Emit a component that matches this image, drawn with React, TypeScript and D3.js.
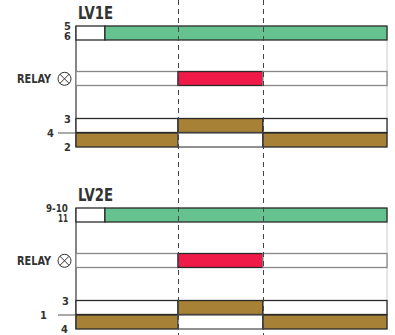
import React from "react";
import * as d3 from "d3";

// time axis (arbitrary units 0..100)
const timeDomain = [0, 100];
const switchTimes = [32.8, 60.1];

type Seg = [number, number, number];

const panelTitles = ["LV1E", "LV2E"];
const supplyLabels = [["5", "6"], ["9-10", "11"]];
const contactLabels = [["3", "4", "2"], ["3", "1", "4"]];
const relayLabel = "RELAY";

const supplyStates: Seg[] = [[0, 9.3, 0], [9.3, 100, 1]];
const relayStates: Seg[] = [[0, 32.8, 0], [32.8, 60.1, 1], [60.1, 100, 0]];
const nOpenStates: Seg[] = [[0, 32.8, 0], [32.8, 60.1, 1], [60.1, 100, 0]];
const nClosedStates: Seg[] = [[0, 32.8, 1], [32.8, 60.1, 0], [60.1, 100, 1]];

const GREEN = "#66c28e";
const RED = "#ef1a47";
const BROWN = "#a68136";
const FONT = "'Liberation Sans Narrow', 'DejaVu Sans Condensed', 'Arial Narrow', sans-serif";

export default function App() {
  const W = 395, H = 335;
  const x = d3.scaleLinear().domain(timeDomain).range([76, 387]);
  const panelOffsets = [0, 182];

  const row = (segs: Seg[], y0: number, h: number, color: string, offStroke: string, key: string) => (
    <g key={key}>
      {segs.map((s, i) => (
        <rect key={i} x={x(s[0])} y={y0} width={x(s[1]) - x(s[0])} height={h}
          fill={s[2] ? color : "#fff"} stroke={s[2] ? "#2a2a2a" : offStroke} strokeWidth={1.3} />
      ))}
    </g>
  );

  const lbl = (txt: string, xx: number, yy: number, fs = 11, len?: number) => (
    <text x={xx} y={yy} textAnchor="end" fontFamily={FONT} fontWeight="bold" fontSize={fs} fill="#333"
      {...(len ? { textLength: len, lengthAdjust: "spacingAndGlyphs" } : {})}>{txt}</text>
  );

  return (
    <svg width={W} height={H} style={{ position: "absolute", left: 0, top: 0 }}>
      <rect width={W} height={H} fill="#fff" />
      {panelOffsets.map((oy, p) => {
        const ySup = 26 + oy, yRel = 71.5 + oy, yA = 118.5 + oy, yB = 133 + oy;
        const h = 14;
        return (
          <g key={p}>
            <line x1={x(0)} x2={x(0)} y1={ySup} y2={yB + h} stroke="#444" strokeWidth={1.3} />
            <line x1={x(100)} x2={x(100)} y1={ySup} y2={yB + h} stroke="#ccc" strokeWidth={1} />
            <text x={78} y={18.5 + oy} fontFamily={FONT} fontWeight="bold" fontSize={18} fill="#333"
              textLength={35} lengthAdjust="spacingAndGlyphs">{panelTitles[p]}</text>
            {row(supplyStates, ySup, h, GREEN, "#2a2a2a", "s")}
            {row(relayStates, yRel, h, RED, "#888", "r")}
            {row(nOpenStates, yA, h, BROWN, "#2a2a2a", "a")}
            {row(nClosedStates, yB, h, BROWN, "#555", "b")}
            {lbl(supplyLabels[p][0], p ? 68 : 71, ySup + 4.2, 11, p ? 22 : undefined)}
            {lbl(supplyLabels[p][1], p ? 68 : 71, ySup + 14.2, 11, p ? 10 : undefined)}
            {lbl(relayLabel, 51, yRel + 11.5, 12.5, 34)}
            <circle cx={64.5} cy={yRel + 7.3} r={6.5} fill="none" stroke="#333" strokeWidth={1} />
            <line x1={64.5 - 4.6} y1={yRel + 7.3 - 4.6} x2={64.5 + 4.6} y2={yRel + 7.3 + 4.6} stroke="#333" strokeWidth={1} />
            <line x1={64.5 - 4.6} y1={yRel + 7.3 + 4.6} x2={64.5 + 4.6} y2={yRel + 7.3 - 4.6} stroke="#333" strokeWidth={1} />
            {lbl(contactLabels[p][0], p ? 69 : 71, yA + 4.5)}
            {lbl(contactLabels[p][1], p ? 47 : 54, yB + 4)}
            <line x1={58} x2={x(0)} y1={yB} y2={yB} stroke="#555" strokeWidth={1} />
            {lbl(contactLabels[p][2], p ? 68 : 71, yB + 18)}
          </g>
        );
      })}
      {switchTimes.map((t, i) => (
        <line key={i} x1={Math.round(x(t)) + 0.5} x2={Math.round(x(t)) + 0.5} y1={0} y2={H}
          stroke="#444" strokeWidth={1} strokeDasharray="5,4" />
      ))}
    </svg>
  );
}
